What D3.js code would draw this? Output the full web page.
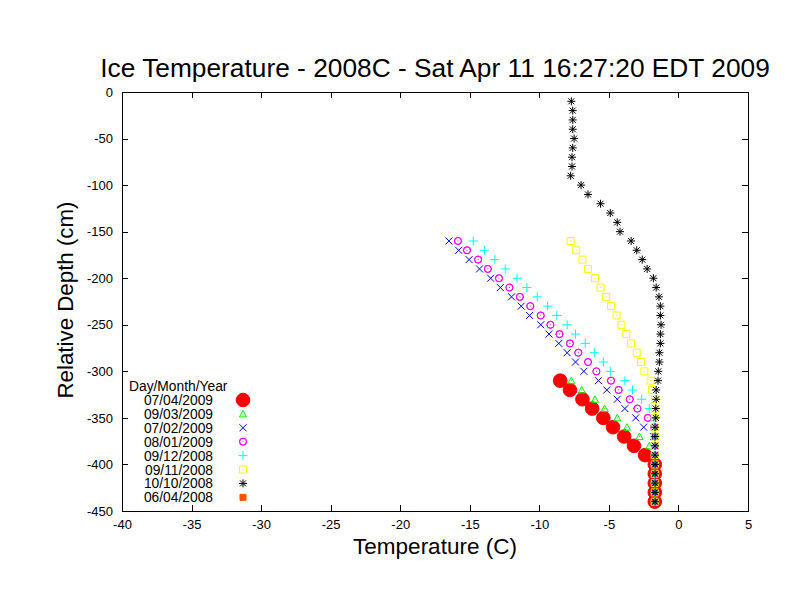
<!DOCTYPE html>
<html>
<head>
<meta charset="utf-8">
<script src="https://cdn.jsdelivr.net/npm/d3@7"></script>
<style>
    body { margin: 0; background: #fff; }
    svg { font-family: "Liberation Sans", Arial, Helvetica, sans-serif; }
</style>
</head>
<body>
<svg id="graph" width="792" height="612"></svg>
<script>
// Depths (cm) of the thermistor string, shared by all the profiles
var depths = [-10, -20, -30, -40, -50, -60, -70, -80, -90, -100,
              -110, -120, -130, -140, -150, -160, -170, -180, -190, -200,
              -210, -220, -230, -240, -250, -260, -270, -280, -290, -300,
              -310, -320, -330, -340, -350, -360, -370, -380, -390, -400,
              -410, -420, -430, -440];

// Temperatures (C), each list ends at the deepest sensor
var t070409 = [-8.5, -7.8, -6.9, -6.2, -5.4, -4.7, -3.9, -3.2, -2.4, -1.7,
               -1.7, -1.7, -1.7, -1.7];
var t090309 = [-7.7, -6.95, -6.0, -5.3, -4.4, -3.7, -2.8, -2.1, -1.75, -1.7,
               -1.7, -1.7, -1.7, -1.7];
var t070209 = [-16.5, -15.8, -15.05, -14.3, -13.5, -12.8, -12.0, -11.3, -10.7, -9.9,
               -9.3, -8.6, -8.0, -7.4, -6.8, -5.75, -5.15, -4.4, -3.85, -3.07,
               -2.5, -1.8, -1.7, -1.7, -1.7, -1.7, -1.7, -1.7, -1.7];
var t080109 = [-15.85, -15.2, -14.4, -13.7, -12.9, -12.15, -11.4, -10.65, -9.9, -9.2,
               -8.55, -7.8, -7.2, -6.5, -5.9, -4.85, -4.3, -3.5, -2.95, -2.2,
               -1.75, -1.7, -1.7, -1.7, -1.7, -1.7, -1.7, -1.7, -1.7];
var t091208 = [-14.75, -13.95, -13.2, -12.45, -11.6, -10.9, -10.15, -9.4, -8.75, -8.0,
               -7.4, -6.7, -6.05, -5.4, -4.9, -3.85, -3.3, -2.65, -2.1, -1.75,
               -1.7, -1.7, -1.7, -1.7, -1.7, -1.7, -1.7, -1.7, -1.7];
var t091108 = [-7.75, -7.35, -6.9, -6.5, -6.0, -5.6, -5.2, -4.85, -4.45, -4.1,
               -3.75, -3.4, -3.0, -2.7, -2.45, -2.0, -1.9, -1.7, -1.7, -1.7,
               -1.7, -1.7, -1.7, -1.7, -1.7, -1.7, -1.7, -1.7, -1.7];
var t101008 = [-7.7, -7.6, -7.6, -7.6, -7.5, -7.6, -7.65, -7.65, -7.75, -7.0,
               -6.5, -5.6, -4.9, -4.4, -4.2, -3.4, -3.0, -2.6, -2.25, -1.8,
               -1.6, -1.4, -1.3, -1.3, -1.25, -1.3, -1.3, -1.37, -1.37, -1.45,
               -1.47, -1.6, -1.6, -1.63, -1.63, -1.68, -1.68, -1.68, -1.68, -1.68,
               -1.68, -1.68, -1.68, -1.68];
var t060408 = []; // no point in range

var dates   = ['07/04/2009', '09/03/2009', '07/02/2009', '08/01/2009',
               '09/12/2008', '09/11/2008', '10/10/2008', '06/04/2008'];
var temps   = [t070409, t090309, t070209, t080109, t091208, t091108, t101008, t060408];
var colors  = ['#ff0000', '#00ff00', '#0000ff', '#ff00ff',
               '#00ffff', '#ffff00', '#000000', '#ff5000'];
var shapes  = ['disc', 'triangle', 'cross', 'circle', 'plus', 'square', 'star', 'box'];

var xTicks = [-40, -35, -30, -25, -20, -15, -10, -5, 0, 5];
var yTicks = [0, -50, -100, -150, -200, -250, -300, -350, -400, -450];

var titleText = 'Ice Temperature - 2008C - Sat Apr 11 16:27:20 EDT 2009';

// Point symbols, centred on 0,0
function symbol(shape) {
    switch (shape) {
    case 'disc':     return d3.arc()({innerRadius: 0, outerRadius: 6.8, startAngle: 0, endAngle: 2 * Math.PI});
    case 'triangle': return 'M0,-3.5L3.5,3L-3.5,3Z';
    case 'cross':    return 'M-3.5,-3.5L3.5,3.5M-3.5,3.5L3.5,-3.5';
    case 'circle':   return d3.arc()({innerRadius: 3.5, outerRadius: 3.5, startAngle: 0, endAngle: 2 * Math.PI});
    case 'plus':     return 'M-4.5,0L4.5,0M0,-4.5L0,4.5';
    case 'square':   return 'M-3.5,-3.5H3.5V3.5H-3.5Z';
    case 'star':     return 'M-4,0H4M0,-4V4M-3,-3L3,3M-3,3L3,-3';
    case 'box':      return 'M-3,-3H3V3H-3Z';
    }
}
var filled = {disc: true, box: true};
var dotted = {triangle: true, circle: true, square: true};

function drawSymbol(g, shape, color) {
    g.append('path').attr('d', symbol(shape))
                    .attr('fill', filled[shape] ? color : 'none')
                    .attr('stroke', color)
                    .attr('stroke-width', 1);
    if (dotted[shape])
        g.append('rect').attr('x', -0.5).attr('y', -0.5)
                        .attr('width', 1).attr('height', 1)
                        .attr('fill', color);
}

function drawGraph() {
    var graph = d3.select('#graph');
    var x0 = 122, x1 = 748, y0 = 92, y1 = 511;

    var xScale = d3.scaleLinear().domain([-40, 5]).range([x0, x1]);
    var yScale = d3.scaleLinear().domain([-450, 0]).range([y1, y0]);
    var plain = (d) => String(d); // hyphen minus, not the unicode one

    // Title and labels
    graph.append('text').attr('x', (x0 + x1) / 2).attr('y', 77)
                        .attr('text-anchor', 'middle').attr('font-size', 26.3)
                        .text(titleText);
    graph.append('text').attr('x', (x0 + x1) / 2).attr('y', 554)
                        .attr('text-anchor', 'middle').attr('font-size', 22.5)
                        .text('Temperature (C)');
    graph.append('text').attr('transform', 'translate(73,' + 300 + ') rotate(-90)')
                        .attr('text-anchor', 'middle').attr('font-size', 22.3)
                        .text('Relative Depth (cm)');

    // Axes, ticks pointing inwards and mirrored
    function styleAxis(axis) {
        axis.attr('font-family', null).attr('font-size', 13);
        axis.selectAll('.domain').remove();
        axis.selectAll('line').attr('stroke', '#000').attr('shape-rendering', 'crispEdges');
        axis.selectAll('text').attr('fill', '#000');
    }
    styleAxis(graph.append('g').attr('transform', 'translate(0,' + y1 + ')')
        .call(d3.axisBottom(xScale).tickValues(xTicks).tickFormat(plain)
                .tickSizeInner(-6).tickSizeOuter(0).tickPadding(9)));
    styleAxis(graph.append('g').attr('transform', 'translate(0,' + y0 + ')')
        .call(d3.axisTop(xScale).tickValues(xTicks).tickFormat('')
                .tickSizeInner(-6).tickSizeOuter(0)));
    styleAxis(graph.append('g').attr('transform', 'translate(' + x0 + ',0)')
        .call(d3.axisLeft(yScale).tickValues(yTicks).tickFormat(plain)
                .tickSizeInner(-6).tickSizeOuter(0).tickPadding(9)));
    styleAxis(graph.append('g').attr('transform', 'translate(' + x1 + ',0)')
        .call(d3.axisRight(yScale).tickValues(yTicks).tickFormat('')
                .tickSizeInner(-6).tickSizeOuter(0)));

    graph.append('rect').attr('x', x0).attr('y', y0)
                        .attr('width', x1 - x0).attr('height', y1 - y0)
                        .attr('fill', 'none').attr('stroke', '#000')
                        .attr('shape-rendering', 'crispEdges');

    // Profiles, drawn in legend order
    temps.forEach(function(t, i) {
        var z = depths.slice(depths.length - t.length);
        var pts = graph.append('g').selectAll('g').data(d3.zip(t, z)).enter().append('g')
                       .attr('transform', (d) => 'translate(' + xScale(d[0]) + ',' + yScale(d[1]) + ')');
        pts.each(function() { drawSymbol(d3.select(this), shapes[i], colors[i]); });
    });

    // Legend
    var legend = graph.append('g').attr('font-size', 13.8);
    legend.append('text').attr('x', 129).attr('y', 391).text('Day/Month/Year');
    dates.forEach(function(date, i) {
        var y = 400 + i * 13.9;
        legend.append('text').attr('x', 213).attr('y', y + 5)
                             .attr('text-anchor', 'end').text(date);
        drawSymbol(legend.append('g').attr('transform', 'translate(243,' + y + ')'), shapes[i], colors[i]);
    });
}

drawGraph();
</script>
</body>
</html>
